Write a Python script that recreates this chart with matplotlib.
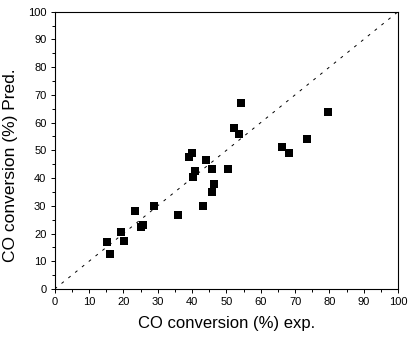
import numpy as np
import matplotlib
matplotlib.use("Agg")
import matplotlib.pyplot as plt
from matplotlib.ticker import MultipleLocator

# experimental vs predicted CO conversion (%)
exp_vals = [15.3, 16.0, 19.2, 20.3, 23.4, 25.0, 25.6, 28.8, 36.0, 39.0, 39.9,
            40.4, 40.8, 43.1, 44.0, 45.7, 45.7, 46.3, 50.6, 52.1, 53.6, 54.2,
            66.3, 68.2, 73.4, 79.7]
pred_vals = [17.0, 12.7, 20.6, 17.3, 28.2, 22.5, 23.2, 30.0, 26.8, 47.6, 48.9,
             40.5, 42.7, 29.9, 46.6, 43.4, 35.1, 38.0, 43.4, 58.2, 56.0, 67.1,
             51.2, 49.2, 54.1, 63.9]
diag = [0, 100]

plt.rcParams['font.family'] = ['Liberation Sans', 'DejaVu Sans']

fig = plt.figure(figsize=(4.12, 3.41), dpi=100)
ax = fig.add_axes([0.1328, 0.1525, 0.8333, 0.8132])

ax.plot(diag, diag, color='black', lw=0.7, linestyle=(0, (3, 6)))
ax.plot(exp_vals, pred_vals, 's', color='black', markersize=5.8, markeredgewidth=0)

ax.set_xlim(0, 100)
ax.set_ylim(0, 100)
ax.xaxis.set_major_locator(MultipleLocator(10))
ax.yaxis.set_major_locator(MultipleLocator(10))
ax.xaxis.set_minor_locator(MultipleLocator(5))
ax.yaxis.set_minor_locator(MultipleLocator(5))
ax.tick_params(which='major', direction='out', length=3, width=0.7, labelsize=8, pad=3)
ax.tick_params(which='minor', direction='out', length=2, width=0.7)
for s in ax.spines.values():
    s.set_linewidth(0.8)

ax.set_xlabel("CO conversion (%) exp.", fontsize=12, labelpad=6.5)
ax.set_ylabel("CO conversion (%) Pred.", fontsize=12.5)
ax.yaxis.set_label_coords(-0.107, 0.447)

fig.savefig("out.png", dpi=100)
